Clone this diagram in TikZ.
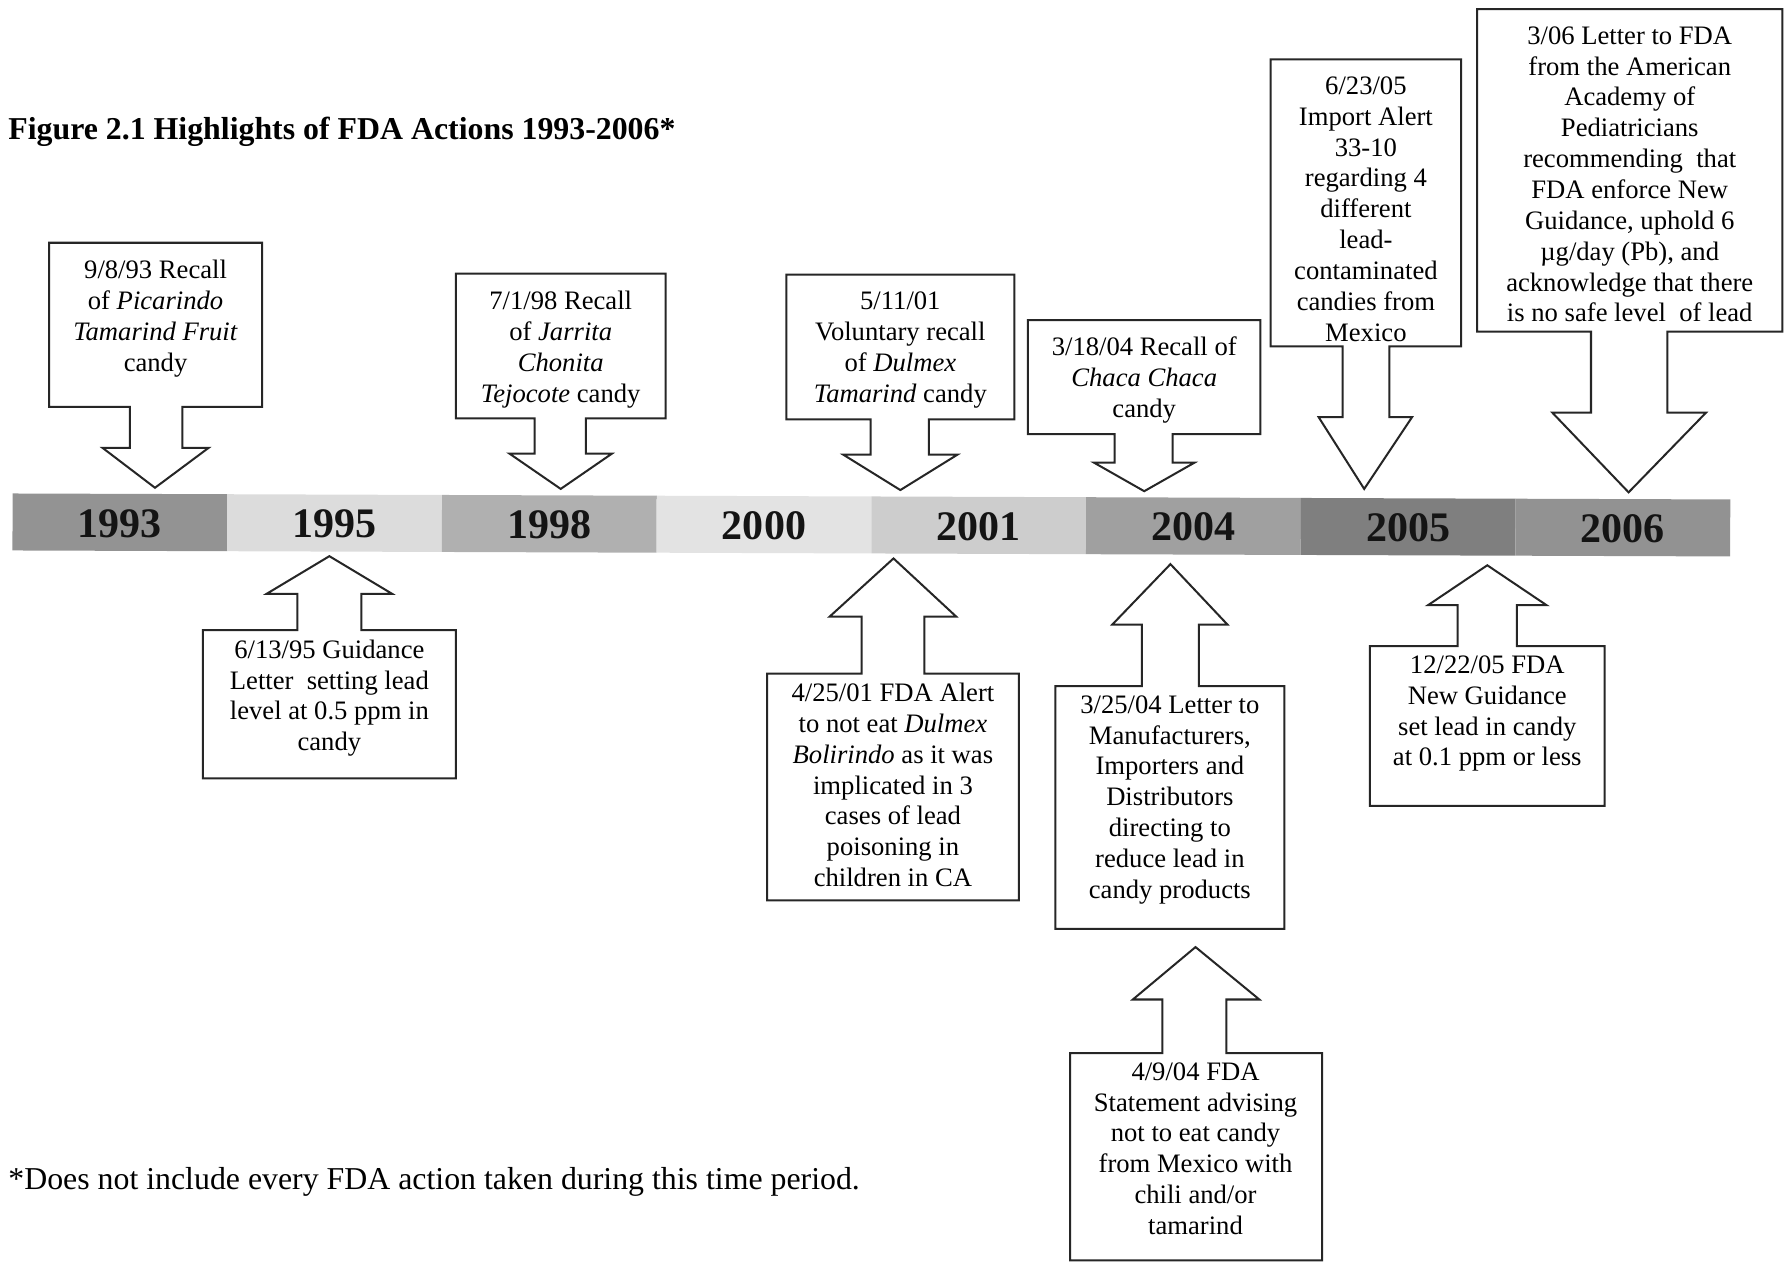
\documentclass[tikz,border=0pt]{standalone}
\usepackage{fontspec}
\setmainfont{Liberation Serif}
\usetikzlibrary{positioning}

\definecolor{bar93}{HTML}{939393}
\definecolor{bar95}{HTML}{DCDCDC}
\definecolor{bar98}{HTML}{B0B0B0}
\definecolor{bar00}{HTML}{E3E3E3}
\definecolor{bar01}{HTML}{CDCDCD}
\definecolor{bar04}{HTML}{A0A0A0}
\definecolor{bar05}{HTML}{7F7F7F}
\definecolor{bar06}{HTML}{929292}

\begin{document}
\begin{tikzpicture}[x=0.02cm,y=-0.02cm,
    callout/.style={draw=black!85,line width=1pt,fill=white,line join=miter},
    note/.style={font=\fontsize{13.3}{15.4}\selectfont,align=center,inner sep=0pt,
                 anchor=north,execute at begin node=\strut},
    year/.style={font=\bfseries\fontsize{21}{25}\selectfont,text=black!92,inner sep=0pt}]

  \useasboundingbox (0,0) rectangle (1568,1108);

  \node [anchor=base west,inner sep=0pt,font=\bfseries\fontsize{15.9}{19}\selectfont] (title) at (7,122)
    {Figure 2.1 Highlights of FDA Actions 1993-2006*};

  % time line
  \begin{scope}[rotate around={-0.2:(11,457)}]
    \foreach \yr/\col [count=\i from 0] in {1993/bar93,1995/bar95,1998/bar98,2000/bar00,
                                            2001/bar01,2004/bar04,2005/bar05,2006/bar06} {
      \fill [\col] ({11+188.4*\i},433) rectangle ({11+188.4*(\i+1)},483);
      \node [year] (y\yr) at ({11+188.4*(\i+0.5)},459) {\yr};
    }
  \end{scope}

  % callouts above the line
  \draw [callout] (43,213) -- (230,213) -- (230,357) -- (160,357) -- (160,393) -- (183,393)
    -- (136,428) -- (90,393) -- (114,393) -- (114,357) -- (43,357) -- cycle;
  \node [note] (recall93) at (136.5,228) {9/8/93 Recall\\of \textit{Picarindo}\\\textit{Tamarind Fruit}\\candy};

  \draw [callout] (400,240) -- (584,240) -- (584,367) -- (514,367) -- (514,398) -- (537,398)
    -- (492,429) -- (447,398) -- (469,398) -- (469,367) -- (400,367) -- cycle;
  \node [note] (recall98) at (492,255) {7/1/98 Recall\\of \textit{Jarrita}\\\textit{Chonita}\\\textit{Tejocote} candy};

  \draw [callout] (690,241) -- (890,241) -- (890,368) -- (815,368) -- (815,399) -- (840,399)
    -- (790,430) -- (740,399) -- (764,399) -- (764,368) -- (690,368) -- cycle;
  \node [note] (recall01) at (790,256) {5/11/01\\Voluntary recall\\of \textit{Dulmex}\\\textit{Tamarind} candy};

  \draw [callout] (902,281) -- (1106,281) -- (1106,381) -- (1029,381) -- (1029,406) -- (1048,406)
    -- (1004,431) -- (960,406) -- (978,406) -- (978,381) -- (902,381) -- cycle;
  \node [note] (recall04) at (1004,295) {3/18/04 Recall of\\\textit{Chaca Chaca}\\candy};

  \draw [callout] (1115,52) -- (1282,52) -- (1282,304) -- (1219,304) -- (1219,366) -- (1239,366)
    -- (1197,429) -- (1157,366) -- (1178,366) -- (1178,304) -- (1115,304) -- cycle;
  \node [note] (alert05) at (1198.5,67) {6/23/05\\Import Alert\\33-10\\regarding 4\\different\\lead-\\contaminated\\candies from\\Mexico};

  \draw [callout] (1296,8) -- (1564,8) -- (1564,291) -- (1463,291) -- (1463,362) -- (1497,362)
    -- (1429,432) -- (1362,362) -- (1396,362) -- (1396,291) -- (1296,291) -- cycle;
  \node [note] (letter06) at (1430,23) {3/06 Letter to FDA\\from the American\\Academy of\\Pediatricians\\recommending\ \ that\\FDA enforce New\\Guidance, uphold 6\\µg/day (Pb), and\\acknowledge that there\\is no safe level\ \ of lead};

  % callouts below the line
  \draw [callout] (178,683) -- (400,683) -- (400,553) -- (317,553) -- (317,521) -- (344,521)
    -- (289,488) -- (234,521) -- (261,521) -- (261,553) -- (178,553) -- cycle;
  \node [note] (guidance95) at (289,561) {6/13/95 Guidance\\Letter\ \ setting lead\\level at 0.5 ppm in\\candy};

  \draw [callout] (673,790) -- (894,790) -- (894,591) -- (811,591) -- (811,541) -- (839,541)
    -- (784,490) -- (728,541) -- (756,541) -- (756,591) -- (673,591) -- cycle;
  \node [note] (alert01) at (783.5,599) {4/25/01 FDA Alert\\to not eat \textit{Dulmex}\\\textit{Bolirindo} as it was\\implicated in 3\\cases of lead\\poisoning in\\children in CA};

  \draw [callout] (926,815) -- (1127,815) -- (1127,602) -- (1052,602) -- (1052,548) -- (1077,548)
    -- (1027,495) -- (976,548) -- (1002,548) -- (1002,602) -- (926,602) -- cycle;
  \node [note] (letter04) at (1026.5,610) {3/25/04 Letter to\\Manufacturers,\\Importers and\\Distributors\\directing to\\reduce lead in\\candy products};

  \draw [callout] (1202,707) -- (1408,707) -- (1408,567) -- (1331,567) -- (1331,531) -- (1357,531)
    -- (1305,496) -- (1253,531) -- (1279,531) -- (1279,567) -- (1202,567) -- cycle;
  \node [note] (guidance05) at (1305,575) {12/22/05 FDA\\New Guidance\\set lead in candy\\at 0.1 ppm or less};

  \draw [callout] (939,1106) -- (1160,1106) -- (1160,924) -- (1076,924) -- (1076,877) -- (1105,877)
    -- (1049,831) -- (994,877) -- (1020,877) -- (1020,924) -- (939,924) -- cycle;
  \node [note] (statement04) at (1049,932) {4/9/04 FDA\\Statement advising\\not to eat candy\\from Mexico with\\chili and/or\\tamarind};

  \node [anchor=base west,inner sep=0pt,font=\fontsize{15.9}{19}\selectfont] (footnote) at (7,1044)
    {*Does not include every FDA action taken during this time period.};

\end{tikzpicture}
\end{document}
